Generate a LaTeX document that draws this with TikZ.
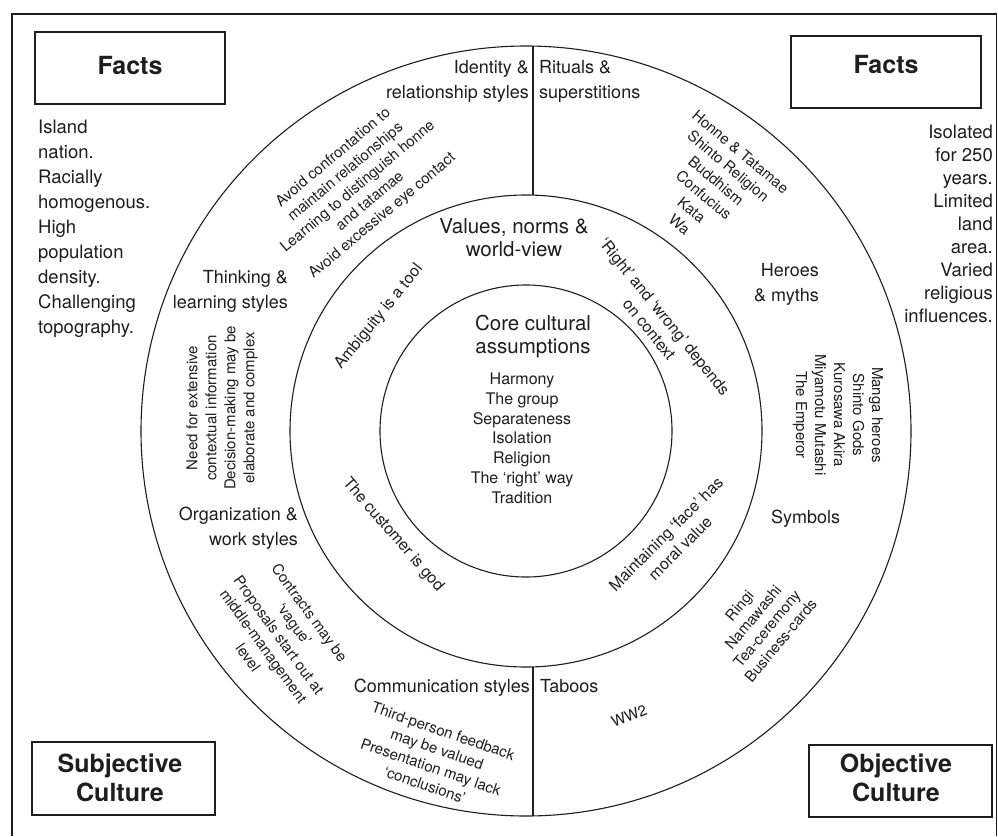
\documentclass[tikz,border=0pt]{standalone}
\usepackage{fontspec}
\setmainfont{TeX Gyre Heros}
\definecolor{ink}{HTML}{1E1E1E}
\tikzset{
  ring/.style={draw=ink, line width=1.1pt},
  frameline/.style={draw=ink, line width=1.4pt},
  boxnode/.style={draw=ink, line width=1.3pt, minimum width=190pt, minimum height=72pt, inner sep=0pt},
  boldtxt/.style={font=\fontsize{25}{29}\selectfont\bfseries, inner sep=0pt, text=ink, align=center},
  facttxt/.style={font=\fontsize{18.5}{25}\selectfont, inner sep=0pt, text=ink},
  labeltxt/.style={font=\fontsize{18}{24.5}\selectfont, inner sep=0pt, text=ink},
  valtxt/.style={font=\fontsize{20.5}{22.5}\selectfont, inner sep=0pt, text=ink, align=center},
  listtxt/.style={font=\fontsize{16}{19.7}\selectfont, inner sep=0pt, text=ink, align=center},
  midtxt/.style={font=\fontsize{16}{20}\selectfont, inner sep=0pt, text=ink, align=center},
  smalltxt/.style={font=\fontsize{15}{19}\selectfont, inner sep=0pt, text=ink, align=center},
}
\begin{document}
\begin{tikzpicture}[x=1pt,y=-1pt]
\useasboundingbox (0,0) rectangle (998,836);
\fill[white] (0,0) rectangle (998,836);
% frame
\draw[frameline] (12,836) -- (12,14) -- (996.5,14) -- (996.5,836);
% circles
\coordinate (c) at (526,431);
\draw[ring] (c) circle[radius=385pt];
\draw[ring] (c) circle[radius=236pt];
\draw[ring] (c) circle[radius=146pt];
% dividers
\coordinate (dt1) at (533,46.1);
\coordinate (dt2) at (533,195.1);
\coordinate (db1) at (533,666.9);
\coordinate (db2) at (533,815.9);
\draw[ring] (dt1) -- (dt2);
\draw[ring] (db1) -- (db2);
% boxes
\node[boxnode] (boxFL) at (130,68) {};
\node[boxnode] (boxFR) at (886,72) {};
\node[boxnode, minimum width=183pt, minimum height=73pt] (boxSC) at (123.5,778.5) {};
\node[boxnode, minimum width=183pt, minimum height=72pt] (boxOC) at (900.5,781) {};
\node[boldtxt, anchor=base] (tFL) at (130,74) {Facts};
\node[boldtxt, anchor=base] (tFR) at (886,73) {Facts};
\node[boldtxt, anchor=base] (tSC) at (120,801) {Subjective\\Culture};
\node[boldtxt, anchor=base] (tOC) at (896,801) {Objective\\Culture};
% side facts (anchor = baseline of last line)
\node[facttxt, anchor=base west, align=left] (factL) at (38,333)
  {Island\\nation.\\Racially\\homogenous.\\High\\population\\density.\\Challenging\\topography.};
\node[facttxt, anchor=base east, align=right, font=\fontsize{18.5}{23}\selectfont] (factR) at (993,322)
  {Isolated\\for 250\\years.\\Limited\\land\\area.\\Varied\\religious\\influences.};
% outer ring labels
\node[labeltxt, anchor=base east, align=right] (lId) at (529,98) {Identity \&\\relationship styles};
\node[labeltxt, anchor=base west, align=left] (lRit) at (539,98) {Rituals \&\\superstitions};
\node[labeltxt, anchor=base east, align=right] (lThink) at (288,308) {Thinking \&\\learning styles};
\node[labeltxt, anchor=base east, align=right] (lOrg) at (298,545) {Organization \&\\work styles};
\node[labeltxt, anchor=base east, align=right] (lHero) at (819,301) {Heroes\\\& myths};
\node[labeltxt, anchor=base west] (lSym) at (771,523) {Symbols};
\node[labeltxt, anchor=base east] (lComm) at (530,692) {Communication styles};
\node[labeltxt, anchor=base west] (lTab) at (540,692) {Taboos};
% middle ring heading
\node[valtxt, anchor=base] (lVal) at (514,256) {Values, norms \&\\world-view};
% core
\node[valtxt, anchor=base] (lCore) at (533,353) {Core cultural\\assumptions};
\node[listtxt, anchor=base] (lList) at (522,503)
  {Harmony\\The group\\Separateness\\Isolation\\Religion\\The ‘right’ way\\Tradition};
% middle ring rotated texts
\node[midtxt, rotate=51] (mAmb) at (379,317) {Ambiguity is a tool};
\node[midtxt, rotate=-51] (mRight) at (657,323) {‘Right’ and ‘wrong’ depends\\on context};
\node[midtxt, rotate=-49] (mCust) at (393,535) {The customer is god};
\node[midtxt, rotate=45] (mFace) at (673,541) {Maintaining ‘face’ has\\moral value};
% outer ring rotated texts
\node[smalltxt, rotate=40] (oIdent) at (358,187)
  {Avoid confrontation to\\maintain relationships\\Learning to distinguish honne\\and tatamae\\Avoid excessive eye contact};
\node[smalltxt, rotate=90] (oThink) at (222,408)
  {Need for extensive\\contextual information\\Decision-making may be\\elaborate and complex};
\node[smalltxt, rotate=-54] (oOrg) at (279,635)
  {Contracts may be\\‘vague’\\Proposals start out at\\middle-management\\level};
\node[smalltxt, rotate=-19] (oComm) at (434,758)
  {Third-person feedback\\may be valued\\Presentation may lack\\‘conclusions’};
\node[smalltxt, rotate=22] (oTab) at (629,716) {WW2};
\node[smalltxt, rotate=50, font=\fontsize{15}{18}\selectfont] (oSym) at (760,623)
  {Ringi\\Namawashi\\Tea-ceremony\\Business-cards};
\node[smalltxt, rotate=-90] (oHero) at (838,415)
  {Manga heroes\\Shinto Gods\\Kurosawa Akira\\Miyamotu Mutashi\\The Emperor};
\node[smalltxt, rotate=-40] (oRit) at (710,188)
  {Honne \& Tatamae\\Shinto Religion\\Buddhism\\Confucius\\Kata\\Wa};
\end{tikzpicture}
\end{document}
